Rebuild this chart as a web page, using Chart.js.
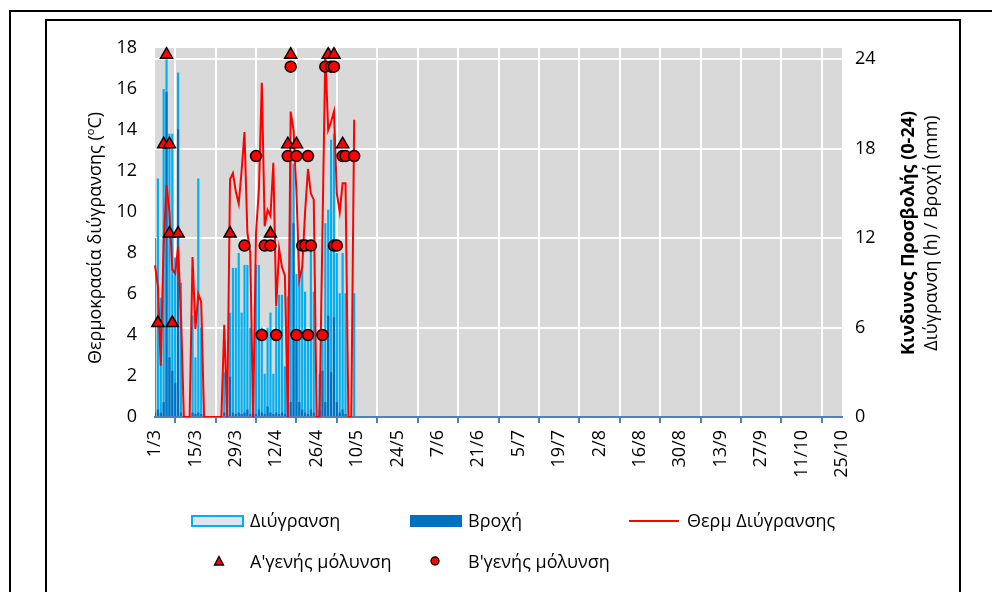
<!DOCTYPE html>
<html>
<head>
<meta charset="utf-8">
<script src="https://cdn.jsdelivr.net/npm/chart.js"></script>
<style>
html, body { margin: 0; padding: 0; background: #fff; }
#page { position: relative; width: 992px; height: 592px; overflow: hidden; font-family: 'Open Sans', sans-serif; color: #000; }
#wrap { position: absolute; left: 0; top: 0; width: 992px; height: 592px; }
.box { position: absolute; border: 2px solid #000; pointer-events: none; }
.rot { position: absolute; white-space: nowrap; transform: translate(-50%, -50%) rotate(-90deg); font-size: 18px; line-height: 1.2; }
.leg { position: absolute; font-size: 18px; white-space: nowrap; line-height: 18px; }
sup { font-size: 11px; vertical-align: 7px; line-height: 0; }
</style>
</head>
<body>
<div id="page">
  <div id="wrap"><canvas id="c"></canvas></div>
  <div class="box" style="left:9px; top:10px; width:1100px; height:700px;"></div>
  <div class="box" style="left:45px; top:19px; width:912px; height:700px;"></div>

  <div class="rot" style="left:95px; top:238px;">Θερμοκρασία διύγρανσης (<sup>o</sup>C)</div>
  <div class="rot" style="left:908px; top:233px; font-weight:bold;">Κινδυνος Προσβολής (0-24)</div>
  <div class="rot" style="left:931px; top:233px;">Διύγρανση (h) / Βροχή (mm)</div>

  <div style="position:absolute; left:191px; top:515px; width:49px; height:8px; background:#DCE6F2; border:2px solid #00B0F0;"></div>
  <div class="leg" style="left:250px; top:511px;">Διύγρανση</div>
  <div style="position:absolute; left:410px; top:515px; width:52px; height:12px; background:#0070C0;"></div>
  <div class="leg" style="left:468px; top:511px;">Βροχή</div>
  <div style="position:absolute; left:629px; top:520px; width:50px; height:2px; background:#FF0000;"></div>
  <div class="leg" style="left:687px; top:511px;">Θερμ Διύγρανσης</div>

  <svg style="position:absolute; left:213px; top:555px;" width="12" height="12"><polygon points="6,1.5 10.5,10 1.5,10" fill="#FF0000" stroke="#000" stroke-width="1.3"/></svg>
  <div class="leg" style="left:250px; top:552px;">Α'γενής μόλυνση</div>
  <svg style="position:absolute; left:429px; top:555px;" width="12" height="12"><circle cx="6" cy="6" r="4" fill="#FF0000" stroke="#000" stroke-width="1.3"/></svg>
  <div class="leg" style="left:468px; top:552px;">Β'γενής μόλυνση</div>
</div>

<script>
// ---- categories: every day from 1/3 to 25/10 ----
const categories = [];
for (let i = 0; i < 239; i++) {
  const d = new Date(2021, 2, 1 + i);
  categories.push(d.getDate() + '/' + (d.getMonth() + 1));
}

// ---- tick labels shown on the date axis ----
const tickLabels = ['1/3', '15/3', '29/3', '12/4', '26/4', '10/5', '24/5', '7/6', '21/6', '5/7',
  '19/7', '2/8', '16/8', '30/8', '13/9', '27/9', '11/10', '25/10'];

// ---- daily series from 1/3 (right axis: hours / mm) ----
const wetnessHours = [
  12.0, 16.0, 8.0, 22.0, 24.0, 19.0, 19.0, 10.7, 23.1, 9.0,
  0, 0, 0, 6.8, 4.0, 16.0, 6.0, 0, 0, 0,
  0, 0, 0, 0, 3.0, 2.0, 7.0, 10.0, 10.0, 11.0,
  7.0, 10.2, 10.2, 6.0, 2.5, 10.2, 10.2, 6.0, 2.9, 6.0,
  7.0, 2.9, 7.4, 8.2, 8.2, 3.4, 8.1, 17.6, 17.0, 9.6,
  9.2, 10.1, 8.4, 5.8, 11.7, 8.4, 0, 2.9, 5.6, 13.0,
  13.9, 18.6, 19.0, 11.0, 8.3, 11.0, 8.3, 0, 0, 8.3
];
const rainMm = [
  0.3, 0.5, 0.3, 1.0, 21.8, 4.0, 3.1, 2.3, 19.3, 0.3,
  0, 0, 0, 0.3, 0.2, 0.3, 0.2, 0, 0, 0,
  0, 0, 0, 0, 0.3, 0.2, 2.7, 0.3, 0.2, 0.3,
  0.2, 0.3, 0.5, 0.2, 0.3, 0.2, 0.5, 0.3, 0.2, 0.7,
  0.3, 0.2, 0.3, 0.2, 0.3, 0.2, 2.0, 1.0, 13.0, 5.6,
  1.0, 0.5, 0.3, 0.2, 0.5, 0.3, 0, 0.5, 3.1, 1.0,
  6.8, 3.0, 6.7, 1.0, 0.3, 0.5, 0.2, 0, 0, 0
];
// ---- daily series from 1/3 (left axis: °C) ----
const wetTempC = [
  7.4, 6.4, 2.5, 8.5, 11.3, 10.0, 7.2, 7.0, 8.3, 5.0,
  0, 0, 0, 7.8, 4.3, 6.0, 5.6, 0, 0, 0,
  0, 0, 0, 0, 4.5, 0, 11.6, 11.9, 11.0, 10.4,
  12.0, 13.9, 9.0, 8.0, 0, 9.0, 11.1, 16.3, 9.3, 10.1,
  9.8, 12.4, 5.4, 8.2, 7.3, 6.9, 0, 14.9, 14.0, 11.0,
  6.7, 7.3, 10.0, 12.1, 10.9, 10.6, 0, 0, 9.0, 17.7,
  14.0, 14.4, 14.9, 10.9, 10.0, 11.4, 11.4, 0, 0, 14.5
];

// ---- infection events (right axis risk level) ----
const aInfDates  = ['2/3', '4/3', '5/3', '6/3', '6/3', '7/3', '9/3', '27/3', '10/4', '16/4', '17/4', '19/4', '30/4', '2/5', '5/5'];
const aInfLevels = [6.3, 18.3, 24.3, 18.3, 12.3, 6.3, 12.3, 12.3, 12.3, 18.3, 24.3, 18.3, 24.3, 24.3, 18.3];
const bInfDates  = ['1/4', '5/4', '7/4', '8/4', '10/4', '12/4', '16/4', '17/4', '19/4', '19/4', '21/4', '22/4',
  '23/4', '23/4', '24/4', '28/4', '29/4', '1/5', '2/5', '2/5', '3/5', '5/5', '6/5', '9/5'];
const bInfLevels = [11.5, 17.5, 5.5, 11.5, 11.5, 5.5, 17.5, 23.5, 17.5, 5.5, 11.5, 11.5,
  5.5, 17.5, 11.5, 5.5, 23.5, 23.5, 23.5, 11.5, 11.5, 17.5, 17.5, 17.5];

const tickSet = new Set(tickLabels);
Chart.defaults.font.family = "'Open Sans', sans-serif";
Chart.defaults.color = '#000';

const plotBg = {
  id: 'plotBg',
  beforeDraw(chart) {
    const { ctx, chartArea: a } = chart;
    ctx.save();
    ctx.fillStyle = '#D9D9D9';
    ctx.fillRect(a.left, a.top, a.right - a.left, a.bottom - a.top);
    ctx.restore();
  }
};

new Chart(document.getElementById('c'), {
  data: {
    labels: categories,
    datasets: [
      { type: 'bar', label: 'Διύγρανση', data: wetnessHours, yAxisID: 'y1',
        backgroundColor: '#00B0F0', borderWidth: 0, grouped: false,
        barPercentage: 1, categoryPercentage: 0.75, order: 4 },
      { type: 'bar', label: 'Βροχή', data: rainMm, yAxisID: 'y1',
        backgroundColor: '#0070C0', borderWidth: 0, grouped: false,
        barPercentage: 1, categoryPercentage: 0.75, order: 3 },
      { type: 'line', label: 'Θερμ Διύγρανσης', data: wetTempC, yAxisID: 'y',
        borderColor: '#FF0000', borderWidth: 2, pointRadius: 0, tension: 0, fill: false, order: 2 },
      { type: 'line', label: "Α'γενής μόλυνση", yAxisID: 'y1', showLine: false, clip: false,
        data: aInfDates.map((d, i) => ({ x: d, y: aInfLevels[i] })),
        pointStyle: 'triangle', pointRadius: 7, pointBackgroundColor: '#FF0000',
        pointBorderColor: '#000', pointBorderWidth: 1.5, order: 1 },
      { type: 'line', label: "Β'γενής μόλυνση", yAxisID: 'y1', showLine: false, clip: false,
        data: bInfDates.map((d, i) => ({ x: d, y: bInfLevels[i] })),
        pointStyle: 'circle', pointRadius: 5.5, pointBackgroundColor: '#FF0000',
        pointBorderColor: '#000', pointBorderWidth: 1.5, order: 0 }
    ]
  },
  options: {
    responsive: true,
    maintainAspectRatio: false,
    animation: false,
    events: [],
    layout: { padding: { top: 48, left: 0, right: 0, bottom: 0 } },
    plugins: { legend: { display: false }, tooltip: { enabled: false } },
    scales: {
      x: {
        type: 'category',
        offset: false,
        afterFit(s) { s.height = 175; },
        border: { display: true, color: '#4F81BD', width: 2 },
        grid: { color: '#FFFFFF', lineWidth: 2, tickColor: '#4F81BD', tickWidth: 2, tickLength: 6, drawOnChartArea: true },
        ticks: {
          autoSkip: false, maxRotation: 90, minRotation: 90, padding: 7,
          font: { size: 18 },
          callback(v, i) { const l = categories[i]; return tickSet.has(l) ? l : null; }
        }
      },
      y: {
        position: 'left', min: 0, max: 18,
        afterFit(s) { s.width = 155; },
        border: { display: false },
        grid: { drawOnChartArea: false, drawTicks: false },
        ticks: { stepSize: 2, padding: 18, font: { size: 18 } }
      },
      y1: {
        position: 'right', min: 0, max: 24.75,
        afterFit(s) { s.width = 150; },
        border: { display: false },
        grid: { color: '#FFFFFF', lineWidth: 2, drawTicks: false },
        ticks: { stepSize: 6, includeBounds: false, padding: 13, font: { size: 18 } }
      }
    }
  },
  plugins: [plotBg]
});
</script>
</body>
</html>
